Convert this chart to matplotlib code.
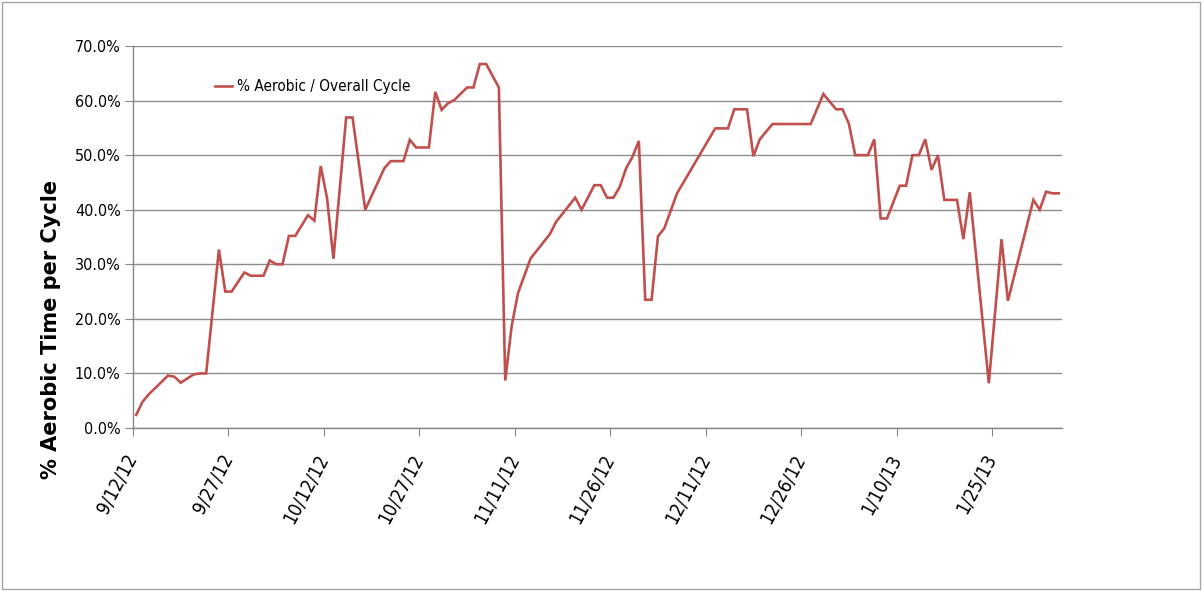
import matplotlib
matplotlib.use("Agg")
import matplotlib.pyplot as plt
import pandas as pd
from matplotlib import font_manager
from matplotlib.ticker import FuncFormatter, MultipleLocator
from matplotlib.patches import Rectangle

dates = [
    "2012-09-12", "2012-09-13", "2012-09-14", "2012-09-17", "2012-09-18", "2012-09-19",
    "2012-09-21", "2012-09-22", "2012-09-23", "2012-09-25", "2012-09-26", "2012-09-27",
    "2012-09-29", "2012-09-30", "2012-10-02", "2012-10-03", "2012-10-04", "2012-10-05",
    "2012-10-06", "2012-10-07", "2012-10-09", "2012-10-10", "2012-10-11", "2012-10-12",
    "2012-10-13", "2012-10-15", "2012-10-16", "2012-10-18", "2012-10-21", "2012-10-22",
    "2012-10-24", "2012-10-25", "2012-10-26", "2012-10-28", "2012-10-29", "2012-10-30",
    "2012-10-31", "2012-11-01", "2012-11-03", "2012-11-04", "2012-11-05", "2012-11-06",
    "2012-11-08", "2012-11-09", "2012-11-10", "2012-11-11", "2012-11-13", "2012-11-16",
    "2012-11-17", "2012-11-20", "2012-11-21", "2012-11-23", "2012-11-24", "2012-11-25",
    "2012-11-26", "2012-11-27", "2012-11-28", "2012-11-29", "2012-11-30", "2012-12-01",
    "2012-12-02", "2012-12-03", "2012-12-04", "2012-12-06", "2012-12-12", "2012-12-14",
    "2012-12-15", "2012-12-17", "2012-12-18", "2012-12-19", "2012-12-21", "2012-12-27",
    "2012-12-29", "2012-12-31", "2013-01-01", "2013-01-02", "2013-01-03", "2013-01-05",
    "2013-01-06", "2013-01-07", "2013-01-08", "2013-01-10", "2013-01-11", "2013-01-12",
    "2013-01-13", "2013-01-14", "2013-01-15", "2013-01-16", "2013-01-17", "2013-01-19",
    "2013-01-20", "2013-01-21", "2013-01-24", "2013-01-26", "2013-01-27", "2013-01-31",
    "2013-02-01", "2013-02-02", "2013-02-03", "2013-02-04",
]

aerobic_pct = [
    2.4, 4.8, 6.2, 9.6, 9.4, 8.3,
    9.8, 10.0, 10.0, 32.7, 25.0, 25.0,
    28.5, 27.9, 27.9, 30.7, 30.0, 30.0,
    35.2, 35.2, 39.0, 38.0, 48.0, 42.1,
    31.0, 56.9, 56.9, 40.0, 47.6, 48.9,
    48.9, 52.8, 51.4, 51.4, 61.6, 58.3,
    59.5, 60.1, 62.4, 62.4, 66.7, 66.7,
    62.4, 8.7, 18.6, 24.7, 31.1, 35.5,
    37.8, 42.2, 40.0, 44.5, 44.5, 42.2,
    42.2, 44.2, 47.6, 49.7, 52.6, 23.5,
    23.5, 35.1, 36.6, 43.0, 54.9, 54.9,
    58.4, 58.4, 49.8, 52.9, 55.7, 55.7,
    61.2, 58.4, 58.4, 55.8, 50.0, 50.0,
    52.9, 38.4, 38.4, 44.4, 44.4, 50.0,
    50.0, 52.9, 47.3, 50.0, 41.8, 41.8,
    34.6, 43.2, 8.2, 34.6, 23.3, 41.8,
    40.0, 43.3, 43.0, 43.0,
]

tick_labels = ["9/12/12", "9/27/12", "10/12/12", "10/27/12", "11/11/12",
               "11/26/12", "12/11/12", "12/26/12", "1/10/13", "1/25/13"]
tick_dates = ["2012-09-12", "2012-09-27", "2012-10-12", "2012-10-27", "2012-11-11",
              "2012-11-26", "2012-12-11", "2012-12-26", "2013-01-10", "2013-01-25"]
x_start, x_end = "2012-09-12", "2013-02-05"

series_label = "% Aerobic / Overall Cycle"
y_label = "% Aerobic Time per Cycle"


def find_narrow():
    """Pick a condensed/narrow regular sans font if one is installed."""
    prefs = ["liberation sans narrow", "dejavu sans condensed", "roboto condensed",
             "open sans condensed", "noto sans condensed", "arial narrow"]
    cands = []
    for f in font_manager.fontManager.ttflist:
        name = f.name.lower()
        fn = f.fname.lower()
        if f.style != "normal":
            continue
        if f.weight not in (400, "normal", "regular"):
            continue
        is_narrow = ("narrow" in name or "condensed" in name or "narrow" in fn
                     or "condensed" in fn or f.stretch in ("condensed", "semi-condensed"))
        if not is_narrow or "bold" in fn or "light" in fn or "oblique" in fn or "italic" in fn:
            continue
        key = name + " " + fn
        rank = 99
        for i, p in enumerate(prefs):
            if p in key or p.replace(" ", "") in key.replace(" ", ""):
                rank = i
                break
        cands.append((rank, f.fname))
    if cands:
        cands.sort()
        return cands[0][1]
    return None


narrow_path = find_narrow()


def nfont(size):
    if narrow_path:
        return font_manager.FontProperties(fname=narrow_path, size=size)
    return font_manager.FontProperties(family="Liberation Sans", size=size * 0.85)


W, H = 1203, 591
fig = plt.figure(figsize=(W / 100, H / 100), dpi=100)
ax = fig.add_axes([133 / W, (H - 428) / H, (1062 - 133) / W, (428 - 46) / H])

x = pd.to_datetime(dates) + pd.Timedelta(hours=12)
ax.plot(x, [v / 100 for v in aerobic_pct], color="#C0504D", lw=1.9,
        label=series_label, solid_joinstyle="miter")

ax.set_xlim(pd.Timestamp(x_start), pd.Timestamp(x_end))
ax.set_ylim(0, 0.70)

ax.yaxis.set_major_locator(MultipleLocator(0.10))
ax.yaxis.set_major_formatter(FuncFormatter(lambda v, p: f"{v * 100:.1f}%"))
ax.set_xticks(pd.to_datetime(tick_dates))
ax.set_xticklabels(tick_labels, rotation=62, ha="right", va="center",
                   rotation_mode="anchor")
ax.tick_params(axis="y", length=6, color="#868686", pad=3)
ax.tick_params(axis="x", length=6, color="#868686", pad=14)
for lab in ax.get_yticklabels():
    lab.set_fontproperties(nfont(11.5))
for lab in ax.get_xticklabels():
    lab.set_fontproperties(nfont(13.5))

ax.grid(axis="y", color="#8c8c8c", lw=1.0)
ax.set_axisbelow(True)
for s in ["top", "right"]:
    ax.spines[s].set_visible(False)
for s in ["left", "bottom"]:
    ax.spines[s].set_color("#868686")
    ax.spines[s].set_linewidth(1.0)

ax.set_ylabel(y_label, fontsize=15, fontweight="bold", family="DejaVu Sans")
ax.yaxis.set_label_coords(-0.0775, (428 - 329) / 382)

leg = ax.legend(loc="center left", bbox_to_anchor=((215 - 133) / 929, (428 - 87) / 382),
                frameon=False, borderpad=0, borderaxespad=0,
                handlelength=1.1, handletextpad=0.35, prop=nfont(11))

fig.add_artist(Rectangle((2 / W, 2 / H), (W - 5) / W, (H - 4) / H, transform=fig.transFigure,
                         fill=False, edgecolor="#a6a6a6", lw=1.0))

fig.savefig("out.png", dpi=100)
